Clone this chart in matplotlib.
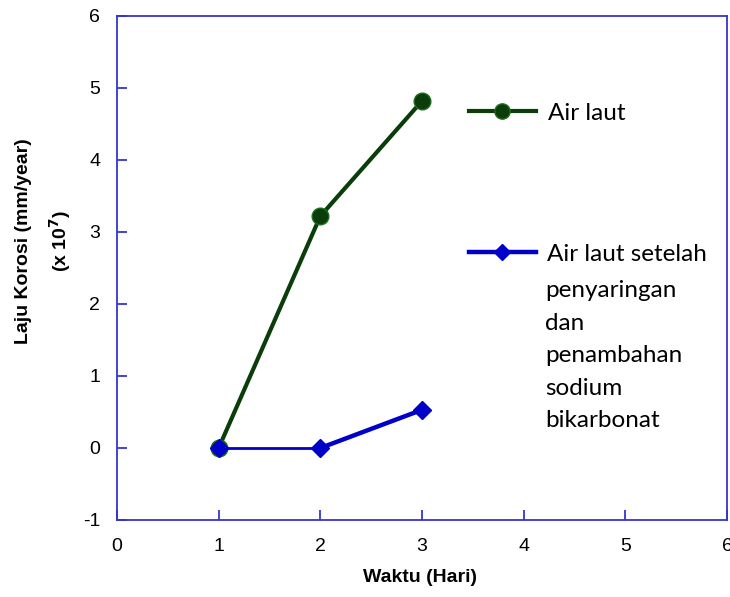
import matplotlib
matplotlib.use("Agg")
import matplotlib.pyplot as plt
from matplotlib.lines import Line2D

plt.rcParams['axes.unicode_minus'] = False

# Data
days = [1, 2, 3]
air_laut = [0.0, 3.22, 4.82]
air_laut_treated = [0.0, 0.0, 0.53]
label_green = "Air laut"
label_blue_lines = ["Air laut setelah", "penyaringan", "dan", "penambahan", "sodium", "bikarbonat"]
xticks = [0, 1, 2, 3, 4, 5, 6]
yticks = [-1, 0, 1, 2, 3, 4, 5, 6]

green = "#0a3d0a"
green_edge = "#1f6b1f"
blue = "#0000c8"
spine_col = "#3535cc"

fig = plt.figure(figsize=(7.3, 5.97), dpi=100)
ax = fig.add_axes([117/730, 1-520/597, 610/730, 504/597])

ax.plot(days, air_laut, color=green, lw=3, marker='o', ms=12,
        mfc=green, mec=green_edge, mew=1, zorder=3)
ax.plot(days[:2], air_laut_treated[:2], color=blue, lw=2, zorder=4)
ax.plot(days[1:], air_laut_treated[1:], color=blue, lw=3.2, zorder=4)
ax.plot(days, air_laut_treated, color=blue, lw=0, marker='D', ms=9,
        mfc=blue, mec=blue, zorder=5)

ax.set_xlim(0, 6)
ax.set_ylim(-1, 6)
ax.set_xticks(xticks)
ax.set_yticks(yticks)
for s in ax.spines.values():
    s.set_color(spine_col)
    s.set_linewidth(1.3)
ax.tick_params(direction='in', length=7, width=1.3, color=spine_col,
               labelsize=14)
ax.tick_params(axis='x', pad=13)
ax.tick_params(axis='y', pad=12)
for lab in ax.get_xticklabels() + ax.get_yticklabels():
    lab.set_family(['Liberation Sans', 'DejaVu Sans'])

fig.text(420/730, 1-578/597, "Waktu (Hari)", ha='center', va='center',
         fontsize=14, fontweight='bold', family=['Liberation Sans'])
fig.text(24/730, 1-241/597, "Laju Korosi (mm/year)", ha='center', va='center',
         rotation=90, fontsize=14, fontweight='bold', family=['Liberation Sans'])
fig.text(60/730, 1-241/597, r"(x 10$^{\mathbf{7}}$)", ha='center', va='center',
         rotation=90, fontsize=14, fontweight='bold', family=['Liberation Sans'])

# legend
h1 = Line2D([], [], color=green, lw=3, marker='o', ms=11, mfc=green, mec=green_edge)
h2 = Line2D([], [], color=blue, lw=3.2, marker='D', ms=8, mfc=blue, mec=blue)
lfont = {'family': 'Lato', 'size': 17.5}
leg1 = ax.legend([h1], [label_green], loc='center left',
                 bbox_to_anchor=(469/730, 1-113/597), bbox_transform=fig.transFigure,
                 frameon=False, prop=lfont, handlelength=2.75, handletextpad=0.5,
                 borderpad=0, borderaxespad=0)
ax.add_artist(leg1)
leg2 = ax.legend([h2], [label_blue_lines[0]], loc='center left',
                 bbox_to_anchor=(469/730, 1-254/597), bbox_transform=fig.transFigure,
                 frameon=False, prop=lfont, handlelength=2.75, handletextpad=0.45,
                 borderpad=0, borderaxespad=0)
fig.text(545/730, 1-280/597, "\n".join(label_blue_lines[1:]), ha='left', va='top',
         fontsize=17.5, family='Lato', linespacing=1.68)

fig.savefig("out.png", dpi=100)
